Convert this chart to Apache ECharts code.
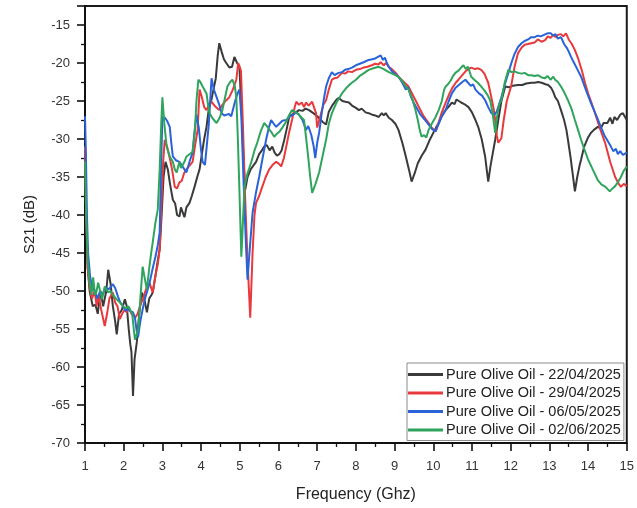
<!DOCTYPE html>
<html>
<head>
<meta charset="utf-8">
<script src="https://cdn.jsdelivr.net/npm/echarts@6/dist/echarts.min.js"></script>
<style>
  html, body { margin: 0; padding: 0; background: #fff; }
  #chart { width: 637px; height: 508px; }
</style>
</head>
<body>
<div id="chart"></div>
<script>
// S21 transmission of pure olive oil, measured on four dates: [frequency GHz, S21 dB]
const s21_22Apr = [
  [1.00,-31],[1.03,-40],[1.07,-47],[1.12,-50],[1.20,-52],[1.27,-51.8],[1.33,-53],[1.40,-50],[1.47,-52],[1.55,-50],
  [1.60,-47.2],[1.66,-49],[1.72,-52],[1.78,-54],[1.82,-55.7],[1.88,-53],[1.95,-52.5],[2.03,-51.1],[2.08,-52],[2.13,-55],
  [2.17,-57],[2.20,-58],[2.24,-63.8],[2.28,-59],[2.34,-56.7],[2.40,-53],[2.47,-50.2],[2.53,-51],[2.60,-52.8],[2.66,-51],
  [2.72,-50.5],[2.75,-50.2],[2.82,-48],[2.88,-46],[2.93,-44.5],[2.98,-40],[3.03,-35],[3.08,-33],[3.14,-34],[3.20,-36],
  [3.27,-38],[3.33,-38.5],[3.38,-40],[3.44,-40.2],[3.48,-39],[3.52,-39.6],[3.57,-40.3],[3.62,-39],[3.70,-38.4],[3.76,-37.5],
  [3.83,-36.3],[3.90,-35],[3.96,-34],[4.02,-32],[4.08,-30],[4.14,-28.4],[4.20,-26],[4.26,-25],[4.30,-24],[4.38,-22],
  [4.43,-19],[4.47,-17.4],[4.53,-18.5],[4.59,-19.5],[4.65,-20],[4.73,-20.6],[4.80,-20.5],[4.86,-19.2],[4.93,-20],[4.99,-20.5],
  [5.05,-27],[5.10,-33],[5.14,-36.7],[5.20,-35],[5.28,-34],[5.35,-33.5],[5.42,-33],[5.50,-32],[5.57,-31.5],[5.63,-31],
  [5.70,-30.8],[5.77,-31.5],[5.84,-31],[5.90,-31.8],[5.96,-32.2],[6.02,-32],[6.08,-31.5],[6.15,-30.1],[6.22,-28.5],[6.28,-27],
  [6.35,-26.8],[6.45,-26.5],[6.53,-26.2],[6.62,-26.3],[6.70,-26.0],[6.79,-26.2],[6.90,-26.6],[7.00,-27.0],[7.05,-27.2],[7.15,-27.8],
  [7.23,-28.1],[7.30,-26.4],[7.40,-25.5],[7.50,-24.8],[7.56,-24.6],[7.65,-25],[7.73,-25.1],[7.82,-25.2],[7.90,-25.6],[8.00,-25.9],
  [8.08,-26.2],[8.15,-26.0],[8.25,-26.5],[8.33,-26.6],[8.42,-26.8],[8.50,-26.9],[8.59,-27.1],[8.67,-26.6],[8.72,-26.9],[8.77,-26.6],
  [8.85,-27.2],[8.93,-27.5],[9.02,-28.0],[9.10,-28.8],[9.20,-30.5],[9.29,-32.3],[9.37,-34],[9.44,-35.6],[9.52,-34.5],[9.60,-33.2],
  [9.70,-32.2],[9.80,-31.4],[9.90,-30.2],[10.00,-29.2],[10.07,-28.5],[10.14,-27.9],[10.22,-27],[10.30,-26.3],[10.39,-25.8],[10.48,-25.2],
  [10.55,-25.4],[10.60,-24.8],[10.65,-24.9],[10.72,-25.2],[10.80,-25.4],[10.91,-25.8],[11.00,-26.5],[11.08,-27.4],[11.16,-28.4],[11.25,-30],
  [11.34,-32.3],[11.38,-34],[11.42,-35.6],[11.48,-33.5],[11.54,-31.8],[11.60,-30.1],[11.68,-27.5],[11.76,-25],[11.86,-23.1],[11.95,-23.2],
  [12.05,-23.0],[12.19,-22.9],[12.30,-22.9],[12.40,-22.7],[12.53,-22.6],[12.62,-22.6],[12.71,-22.5],[12.80,-22.6],[12.90,-22.8],[12.97,-22.9],
  [13.05,-23.3],[13.10,-23.8],[13.15,-24.5],[13.22,-25.0],[13.30,-26.2],[13.38,-27.5],[13.44,-28.8],[13.48,-30.1],[13.55,-32.5],[13.60,-34.5],
  [13.66,-36.9],[13.72,-35],[13.78,-33.5],[13.82,-32.7],[13.90,-31],[14.00,-29.8],[14.07,-29.2],[14.15,-28.8],[14.25,-28.4],[14.33,-28.6],
  [14.40,-27.9],[14.50,-27.9],[14.57,-27.2],[14.63,-28],[14.68,-27.1],[14.75,-27.5],[14.83,-26.8],[14.90,-26.6],[15.00,-27.5]
];

const s21_29Apr = [
  [1.00,-31],[1.03,-40],[1.07,-47],[1.12,-49.5],[1.18,-51],[1.25,-50],[1.30,-52],[1.35,-50.5],[1.42,-52.5],[1.51,-54.6],
  [1.57,-53],[1.63,-51],[1.72,-50.2],[1.78,-51.5],[1.84,-52],[1.90,-53.7],[1.96,-53],[2.02,-52.5],[2.08,-52.8],[2.14,-52.2],
  [2.20,-53],[2.24,-52.8],[2.30,-53.5],[2.36,-53],[2.42,-52],[2.50,-51],[2.60,-49.4],[2.67,-49],[2.75,-50.2],[2.82,-48],
  [2.88,-46.5],[2.93,-44.5],[2.98,-38],[3.02,-33],[3.06,-30.1],[3.12,-31],[3.19,-32.5],[3.25,-34],[3.32,-36.3],[3.38,-36.5],
  [3.44,-35.7],[3.50,-35.5],[3.56,-34.5],[3.62,-34],[3.70,-33.5],[3.78,-33],[3.84,-31],[3.91,-28.8],[3.96,-23.5],[4.02,-24.5],
  [4.08,-25.8],[4.14,-26.2],[4.20,-25.5],[4.25,-25],[4.30,-25.2],[4.38,-25.8],[4.47,-26.2],[4.55,-25.5],[4.63,-25],[4.73,-24.5],
  [4.82,-23.5],[4.91,-22.2],[4.96,-20],[4.99,-19.9],[5.03,-21],[5.08,-28],[5.14,-38],[5.20,-46],[5.27,-53.5],[5.33,-45],
  [5.38,-40],[5.42,-38.4],[5.50,-37.5],[5.58,-36.3],[5.67,-35],[5.76,-34],[5.85,-33.4],[5.94,-33],[6.00,-33.2],[6.07,-33.6],
  [6.14,-32.5],[6.20,-31],[6.28,-29],[6.35,-27.5],[6.42,-25.8],[6.46,-25.1],[6.53,-25.5],[6.60,-25.2],[6.66,-25.8],[6.71,-25.2],
  [6.78,-25.6],[6.83,-25.5],[6.87,-25.1],[6.93,-26],[6.97,-26.6],[7.00,-28.5],[7.08,-27],[7.16,-25.5],[7.23,-24.9],[7.30,-23.5],
  [7.38,-22.2],[7.45,-22],[7.53,-21.9],[7.64,-21.3],[7.72,-21.4],[7.80,-21.1],[7.90,-21.2],[8.00,-20.9],[8.10,-20.8],[8.20,-20.6],
  [8.30,-20.5],[8.41,-20.3],[8.50,-20.1],[8.58,-20.2],[8.64,-19.9],[8.72,-20.3],[8.78,-20.0],[8.85,-20.5],[8.95,-20.9],[9.03,-21.3],
  [9.10,-21.8],[9.20,-22.3],[9.28,-22.7],[9.36,-23.1],[9.45,-24],[9.55,-25],[9.65,-26],[9.75,-27],[9.88,-27.9],[9.97,-28.6],
  [10.06,-29],[10.14,-27.8],[10.22,-26.5],[10.32,-25.2],[10.42,-24],[10.50,-23.2],[10.58,-22.6],[10.65,-22.2],[10.75,-21.6],[10.85,-21],
  [10.92,-20.8],[10.98,-20.6],[11.08,-20.8],[11.16,-20.7],[11.24,-20.9],[11.32,-21.4],[11.42,-22.6],[11.50,-24.5],[11.56,-26],[11.60,-27.5],
  [11.64,-29.5],[11.68,-30.5],[11.72,-30.2],[11.76,-29.9],[11.82,-27.5],[11.90,-25],[12.01,-23.1],[12.10,-20.5],[12.19,-18.7],[12.28,-18.0],
  [12.36,-17.6],[12.45,-17.5],[12.53,-17.4],[12.62,-17.3],[12.70,-16.9],[12.80,-17.2],[12.89,-17],[12.96,-16.5],[13.03,-16.7],[13.10,-16.3],
  [13.16,-16.6],[13.22,-16.3],[13.30,-16.2],[13.36,-16.5],[13.43,-16.1],[13.50,-16.9],[13.58,-17.5],[13.66,-18.3],[13.75,-19.5],[13.84,-21],
  [13.92,-22.6],[14.00,-24],[14.10,-25.4],[14.18,-26.6],[14.30,-28.5],[14.44,-30.5],[14.57,-33],[14.70,-35],[14.78,-35.8],[14.85,-36.3],
  [14.92,-35.9],[15.00,-36.2]
];

const s21_06May = [
  [1.00,-27],[1.02,-31],[1.05,-40],[1.08,-45],[1.13,-48],[1.18,-49.5],[1.25,-50],[1.32,-51],[1.39,-50],[1.46,-50.5],
  [1.53,-49.5],[1.60,-49.8],[1.66,-49.5],[1.72,-49.1],[1.78,-49.6],[1.85,-50.7],[1.91,-51.5],[1.98,-52],[2.05,-52.6],[2.12,-52.4],
  [2.18,-52.7],[2.24,-52.8],[2.29,-53.5],[2.34,-55.4],[2.37,-56.1],[2.43,-54],[2.49,-52.4],[2.55,-51],[2.62,-49.8],[2.67,-48.9],
  [2.75,-47],[2.82,-45.5],[2.88,-44],[2.93,-42.3],[2.97,-33],[3.00,-27.1],[3.06,-27.2],[3.12,-27.6],[3.19,-28.4],[3.23,-30.5],
  [3.27,-32.3],[3.35,-32.8],[3.44,-33],[3.52,-33.6],[3.62,-34.4],[3.70,-33],[3.78,-31.8],[3.83,-29],[3.88,-26.8],[3.94,-28.5],
  [4.00,-31.5],[4.04,-33],[4.10,-33.4],[4.14,-33.6],[4.20,-28],[4.27,-22],[4.33,-23.5],[4.40,-24.5],[4.47,-25.5],[4.53,-26.6],
  [4.60,-26.9],[4.65,-27.1],[4.72,-26.7],[4.78,-27.0],[4.81,-26.8],[4.88,-25],[4.94,-24],[4.99,-23.5],[5.04,-27],[5.10,-36],
  [5.16,-44],[5.20,-48.5],[5.25,-45],[5.33,-39.7],[5.42,-37],[5.50,-35],[5.59,-32.5],[5.68,-30.1],[5.75,-28.5],[5.81,-27.5],
  [5.88,-28],[5.94,-28.4],[6.02,-28],[6.10,-27.6],[6.20,-27.5],[6.28,-27.1],[6.38,-26.8],[6.45,-26.5],[6.53,-26.8],[6.62,-27.5],
  [6.71,-28.8],[6.77,-28.3],[6.85,-29.5],[6.91,-31],[6.95,-32.5],[7.00,-30.5],[7.05,-29.2],[7.12,-26.5],[7.18,-24.5],[7.23,-23.1],
  [7.30,-22],[7.38,-21.2],[7.45,-21.6],[7.55,-21.3],[7.64,-21.2],[7.72,-20.9],[7.80,-20.8],[7.90,-20.6],[8.00,-20.3],[8.10,-20.1],
  [8.20,-19.9],[8.33,-19.6],[8.42,-19.5],[8.50,-19.4],[8.57,-19.2],[8.64,-19.0],[8.70,-19.6],[8.75,-19.3],[8.80,-20],[8.85,-20.5],
  [8.95,-21.2],[9.03,-21.5],[9.10,-21.8],[9.20,-22.6],[9.29,-23.5],[9.35,-23.2],[9.42,-24.4],[9.49,-25.2],[9.58,-26],[9.67,-26.8],
  [9.77,-27.4],[9.88,-28.1],[9.97,-28.7],[10.06,-29],[10.14,-28],[10.22,-27],[10.32,-26.2],[10.40,-25],[10.48,-24],[10.57,-23.3],
  [10.66,-22.9],[10.75,-22.5],[10.83,-22.2],[10.90,-22.6],[10.97,-23.0],[11.03,-22.8],[11.09,-23.5],[11.18,-24],[11.26,-24.3],[11.34,-24.9],
  [11.42,-25.8],[11.50,-26.6],[11.58,-26.8],[11.64,-26.4],[11.68,-26.2],[11.76,-24.5],[11.85,-22.8],[11.94,-21.3],[12.03,-19.8],[12.10,-18.8],
  [12.19,-17.9],[12.28,-17.4],[12.36,-17.1],[12.45,-16.9],[12.53,-16.6],[12.62,-16.6],[12.70,-16.4],[12.78,-16.5],[12.86,-16.3],[12.95,-16.1],
  [13.04,-16.1],[13.10,-16.4],[13.16,-16.2],[13.22,-16.8],[13.30,-16.6],[13.38,-17.5],[13.45,-18],[13.50,-18.5],[13.56,-19.2],[13.64,-20],
  [13.73,-20.9],[13.82,-21.8],[13.92,-23.2],[14.00,-24.3],[14.07,-25.2],[14.16,-26.3],[14.25,-27.4],[14.33,-28.4],[14.42,-29.5],[14.50,-30.2],
  [14.59,-31],[14.65,-31.6],[14.72,-31.3],[14.77,-32],[14.83,-31.6],[14.90,-32.1],[15.00,-31.8]
];

const s21_02Jun = [
  [1.00,-33],[1.03,-40],[1.07,-46],[1.12,-49],[1.17,-50.5],[1.21,-48.2],[1.26,-50.5],[1.30,-50],[1.34,-48.9],[1.39,-50],
  [1.44,-51.1],[1.51,-49.4],[1.55,-49.5],[1.60,-50.2],[1.66,-50],[1.72,-50.5],[1.77,-50.3],[1.82,-51.1],[1.90,-51.5],[1.98,-52],
  [2.06,-52.3],[2.12,-52],[2.16,-52.4],[2.22,-53],[2.26,-55],[2.29,-56.4],[2.34,-56.2],[2.38,-55],[2.43,-51],[2.49,-46.8],
  [2.55,-48.5],[2.60,-49.8],[2.66,-47],[2.71,-45],[2.75,-43.6],[2.82,-41],[2.88,-39.3],[2.93,-34],[2.97,-28],[3.00,-24.5],
  [3.05,-28],[3.11,-31],[3.19,-32.3],[3.27,-33],[3.32,-34],[3.37,-34.4],[3.44,-33],[3.48,-33.8],[3.52,-34],[3.57,-33],
  [3.62,-32.3],[3.70,-32],[3.78,-31.7],[3.84,-29],[3.88,-25],[3.93,-22.2],[3.98,-22.5],[4.05,-23.2],[4.14,-24],[4.18,-25.5],
  [4.22,-26.6],[4.30,-27.3],[4.40,-27.9],[4.48,-27.2],[4.55,-26.2],[4.62,-24.5],[4.68,-23.1],[4.75,-22.5],[4.81,-22.2],[4.87,-23],
  [4.91,-24.5],[4.95,-30],[4.99,-36.7],[5.04,-45.5],[5.08,-41],[5.12,-36.3],[5.20,-34.5],[5.30,-33],[5.38,-31.5],[5.45,-30.5],
  [5.54,-29],[5.63,-27.9],[5.70,-28.3],[5.77,-28.8],[5.83,-29.2],[5.89,-29.7],[5.96,-29.3],[6.03,-29],[6.10,-28.5],[6.20,-27.7],
  [6.28,-26.8],[6.35,-26.2],[6.45,-26.5],[6.53,-26.8],[6.60,-27.2],[6.66,-27.5],[6.71,-29.7],[6.76,-32],[6.82,-35],[6.87,-37.1],
  [6.95,-36],[7.05,-34.4],[7.15,-32],[7.23,-30.1],[7.30,-28],[7.38,-26.6],[7.50,-25.2],[7.64,-24],[7.75,-23.3],[7.87,-22.7],
  [8.00,-22.2],[8.10,-21.7],[8.22,-21.3],[8.33,-20.9],[8.45,-20.7],[8.59,-20.5],[8.72,-20.8],[8.85,-21.2],[8.98,-21.5],[9.10,-21.8],
  [9.20,-22.4],[9.28,-23],[9.36,-23.5],[9.45,-24.6],[9.53,-26],[9.60,-27.5],[9.65,-28.8],[9.70,-29.7],[9.76,-29.5],[9.82,-29.8],
  [9.88,-28.8],[9.96,-28],[10.05,-27.2],[10.14,-26.2],[10.22,-25],[10.28,-23.5],[10.32,-23.1],[10.38,-22.8],[10.45,-22.3],[10.50,-21.8],
  [10.57,-21.3],[10.65,-21.0],[10.72,-20.6],[10.78,-20.3],[10.84,-20.8],[10.90,-20.5],[10.98,-21.8],[11.06,-22.2],[11.15,-22.6],[11.24,-23.1],
  [11.32,-23.6],[11.40,-24.2],[11.47,-24.9],[11.53,-26.5],[11.60,-29.2],[11.65,-27],[11.70,-25.5],[11.76,-24.9],[11.85,-22.5],[11.94,-20.9],
  [12.02,-21.2],[12.10,-21.1],[12.19,-21.3],[12.28,-21.4],[12.36,-21.3],[12.45,-21.6],[12.53,-21.6],[12.62,-21.7],[12.70,-21.6],[12.80,-21.9],
  [12.89,-22.0],[12.95,-21.7],[13.03,-22.2],[13.10,-21.8],[13.15,-22.2],[13.22,-22.5],[13.30,-23.1],[13.38,-23.8],[13.48,-24.9],[13.57,-26],
  [13.66,-27.5],[13.74,-28.8],[13.82,-30.1],[13.90,-31.3],[14.00,-32.7],[14.12,-34],[14.25,-35.4],[14.35,-36],[14.45,-36.3],[14.56,-36.9],
  [14.63,-36.5],[14.70,-36.2],[14.77,-35.7],[14.85,-35],[14.92,-34.2],[15.00,-33.6]
];

const seriesNames = [
  'Pure Olive Oil - 22/04/2025',
  'Pure Olive Oil - 29/04/2025',
  'Pure Olive Oil - 06/05/2025',
  'Pure Olive Oil - 02/06/2025'
];
const seriesColors = ['#3a3a3a', '#e83a3c', '#2a63d8', '#2fa45c'];
const seriesData = [s21_22Apr, s21_29Apr, s21_06May, s21_02Jun];

const font = '"Liberation Sans", Arial, sans-serif';
const chart = echarts.init(document.getElementById('chart'), null, { renderer: 'canvas' });

chart.setOption({
  animation: false,
  backgroundColor: '#ffffff',
  grid: {
    left: 85, right: 8, top: 6, bottom: 64,
    show: true, borderColor: '#1a1a1a', borderWidth: 2, backgroundColor: 'transparent'
  },
  legend: {
    orient: 'vertical',
    left: 407, top: 363,
    padding: [4, 3, 3, 1],
    itemGap: 3.5,
    itemWidth: 35, itemHeight: 3,
    icon: 'rect',
    borderColor: '#8c8c8c', borderWidth: 1,
    backgroundColor: '#fff',
    textStyle: { fontFamily: font, fontSize: 14.5, lineHeight: 14.5, color: '#222', padding: [0, 0, 0, -2] },
    data: seriesNames
  },
  xAxis: {
    type: 'value', min: 1, max: 15, interval: 1,
    name: 'Frequency (Ghz)', nameLocation: 'middle', nameGap: 44,
    nameTextStyle: { fontFamily: font, fontSize: 16, color: '#222' },
    axisLine: { onZero: false, lineStyle: { color: '#111', width: 2 } },
    axisTick: { show: true, inside: false, length: 8, lineStyle: { color: '#111', width: 1.6 } },
    minorTick: { show: true, splitNumber: 2, length: 4, lineStyle: { color: '#111', width: 1.3 } },
    axisLabel: { fontFamily: font, fontSize: 13, color: '#333', margin: 17 },
    splitLine: { show: false }
  },
  yAxis: {
    type: 'value', min: -70, max: -12.5, interval: 5,
    name: 'S21 (dB)', nameLocation: 'middle', nameGap: 48, nameRotate: 90,
    nameTextStyle: { fontFamily: font, fontSize: 15, color: '#222' },
    axisLine: { onZero: false, lineStyle: { color: '#111', width: 2 } },
    axisTick: { show: true, inside: false, length: 8, lineStyle: { color: '#111', width: 1.6 } },
    minorTick: { show: true, splitNumber: 2, length: 4, lineStyle: { color: '#111', width: 1.3 } },
    axisLabel: {
      fontFamily: font, fontSize: 13, color: '#333', margin: 15, showMaxLabel: false,
      formatter: v => (v % 5 === 0 ? String(v) : '')
    },
    splitLine: { show: false }
  },
  series: seriesData.map((d, i) => ({
    name: seriesNames[i],
    type: 'line',
    data: d,
    showSymbol: false,
    symbol: 'none',
    lineStyle: { color: seriesColors[i], width: 2 },
    itemStyle: { color: seriesColors[i] },
    z: 2 + i
  }))
});
</script>
</body>
</html>
